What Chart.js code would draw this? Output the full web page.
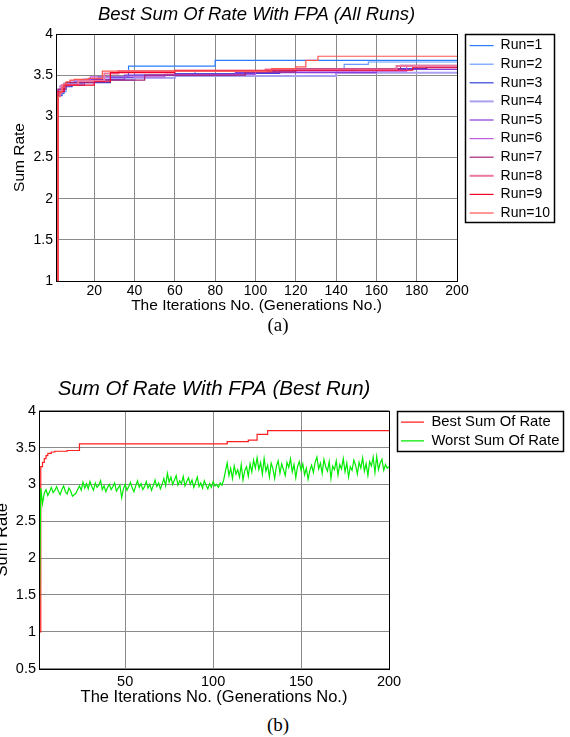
<!DOCTYPE html>
<html>
<head>
<meta charset="utf-8">
<title>Sum Rate FPA</title>
<script src="https://cdn.jsdelivr.net/npm/chart.js@4.4.1/dist/chart.umd.min.js"></script>
<style>
  body { margin: 0; background: #fff; width: 570px; height: 737px; overflow: hidden; position: relative; }
  canvas { position: absolute; left: 0; }
  #grafA { top: 0; }
  #grafB { top: 360px; }
  .rotulo { position: absolute; left: 0; width: 556px; text-align: center; font-family: "Liberation Serif", "Times New Roman", serif; font-size: 19px; line-height: 22px; color: #000; }
</style>
</head>
<body>
<canvas id="grafA" width="570" height="316"></canvas>
<div class="rotulo" style="top:314px">(a)</div>
<canvas id="grafB" width="570" height="348"></canvas>
<div class="rotulo" style="top:714px">(b)</div>
<script>
// DATOS ------------------------------------------------------------
// iteraciones donde cambia el mejor valor de cada corrida (Run=1..10)
const runIters = [
  [1, 2, 5, 10, 22, 37, 80, 200],
  [1, 2, 6, 14, 40, 70, 110, 144, 156, 200],
  [1, 2, 4, 9, 28, 60, 112, 150, 185, 200],
  [1, 2, 5, 12, 40, 60, 140, 200],
  [1, 2, 5, 15, 35, 90, 160, 200],
  [1, 2, 3, 8, 18, 55, 100, 175, 200],
  [1, 2, 6, 20, 45, 95, 120, 172, 200],
  [1, 2, 4, 12, 25, 32, 105, 170, 200],
  [1, 2, 5, 20, 28, 60, 178, 200],
  [1, 2, 3, 4, 5, 6, 8, 10, 17, 24, 108, 120, 125, 131, 200]
];
const runValues = [
  [1.00, 3.28, 3.38, 3.42, 3.48, 3.61, 3.68, 3.68],
  [1.00, 3.30, 3.40, 3.45, 3.50, 3.55, 3.58, 3.63, 3.66, 3.66],
  [1.00, 3.25, 3.36, 3.41, 3.47, 3.52, 3.56, 3.58, 3.60, 3.60],
  [1.00, 3.32, 3.40, 3.44, 3.47, 3.49, 3.53, 3.53],
  [1.00, 3.30, 3.38, 3.45, 3.50, 3.53, 3.57, 3.57],
  [1.00, 3.27, 3.37, 3.43, 3.48, 3.51, 3.55, 3.61, 3.61],
  [1.00, 3.33, 3.41, 3.44, 3.50, 3.54, 3.58, 3.62, 3.62],
  [1.00, 3.29, 3.38, 3.43, 3.52, 3.55, 3.57, 3.61, 3.61],
  [1.00, 3.30, 3.38, 3.42, 3.53, 3.56, 3.59, 3.59],
  [1.00, 3.24, 3.30, 3.35, 3.39, 3.42, 3.44, 3.45, 3.46, 3.55, 3.58, 3.60, 3.68, 3.73, 3.73]
];
// mejor corrida (b)
const bestIters = [1, 2, 3, 4, 5, 6, 8, 10, 17, 24, 108, 120, 125, 131, 200];
const bestValues = [1.00, 3.24, 3.30, 3.35, 3.39, 3.42, 3.44, 3.45, 3.46, 3.55, 3.58, 3.60, 3.68, 3.73, 3.73];
// peor valor por iteracion 1..200 (b)
const worstValues = [
  0.77, 2.95, 2.74, 2.88, 2.93, 2.85, 2.90, 2.96, 2.89, 2.92, 2.97, 2.91, 2.86, 2.93, 2.98, 2.90, 2.87, 2.95, 2.91, 2.84,
  2.86, 2.88, 2.93, 2.98, 2.92, 3.03, 2.95, 3.01, 2.94, 3.04, 2.97, 2.92, 3.02, 2.96, 2.99, 3.05, 2.93, 2.98, 2.90, 2.96,
  3.00, 2.93, 2.97, 3.02, 2.91, 2.95, 2.99, 2.82, 2.94, 3.00, 2.92, 2.97, 3.03, 2.95, 2.90, 2.98, 3.05, 2.96, 3.01, 2.93,
  2.97, 3.04, 2.95, 3.00, 2.92, 2.99, 3.06, 2.97, 3.02, 2.94, 3.00, 3.08, 2.98, 3.15, 3.03, 3.10, 3.00, 3.06, 3.12, 2.99,
  3.05, 3.01, 3.11, 2.98, 3.04, 3.09, 3.00, 3.06, 2.96, 3.03, 3.10, 2.97, 3.02, 2.95, 3.05, 2.99, 2.94, 3.01, 2.96, 3.04,
  2.98, 3.00, 2.96, 3.02, 2.99, 3.06, 3.18, 3.29, 3.12, 3.22, 3.08, 3.25, 3.14, 3.20, 3.10, 3.27, 3.06, 3.19, 3.24, 3.11,
  3.28, 3.17, 3.33, 3.22, 3.36, 3.20, 3.30, 3.14, 3.35, 3.18, 3.26, 3.10, 3.29, 3.21, 3.08, 3.25, 3.32, 3.15, 3.28, 3.20,
  3.12, 3.30, 3.23, 3.35, 3.17, 3.27, 3.09, 3.24, 3.31, 3.19, 3.28, 3.13, 3.22, 3.07, 3.19, 3.26, 3.16, 3.30, 3.37, 3.21,
  3.29, 3.15, 3.34, 3.24, 3.18, 3.31, 3.08, 3.25, 3.20, 3.32, 3.13, 3.27, 3.21, 3.35, 3.17, 3.29, 3.10, 3.24, 3.19, 3.33,
  3.26, 3.14, 3.30, 3.22, 3.36, 3.18, 3.28, 3.12, 3.31, 3.25, 3.37, 3.16, 3.38, 3.20, 3.29, 3.34, 3.19, 3.27, 3.22, 3.24
];
// ticks
const xTicksA = [20, 40, 60, 80, 100, 120, 140, 160, 180, 200];
const yTicksA = [1, 1.5, 2, 2.5, 3, 3.5, 4];
const xTicksB = [50, 100, 150, 200];
const yTicksB = [0.5, 1, 1.5, 2, 2.5, 3, 3.5, 4];
// DATOS END

// estilos
const runColors = [
  "rgb(40,125,255)", "rgb(105,155,255)", "rgb(50,65,215)", "rgb(170,160,240)", "rgb(135,60,220)",
  "rgb(190,90,220)", "rgb(165,35,120)", "rgb(235,120,160)", "rgb(240,0,40)", "rgb(255,85,80)"
];
const runWidths = [1.2, 1.2, 1.2, 2, 1.2, 1.2, 1.2, 2, 1.2, 1.2];
const FONT = "'Liberation Sans', Arial, Helvetica, sans-serif";
const GRID = "#8a8a8a";

// leyenda fuera del area del grafico, 8px a la derecha
const moverLeyenda = {
  id: "moverLeyenda",
  afterLayout(chart) {
    const lg = chart.legend;
    const a = chart.chartArea;
    lg.left = a.right + 8;
    lg.right = lg.left + lg.width;
    lg.top = a.top;
  }
};

// marco de los ejes y caja de la leyenda (estilo MATLAB)
const marco = {
  id: "marco",
  afterDraw(chart) {
    const ctx = chart.ctx;
    const a = chart.chartArea;
    ctx.save();
    ctx.strokeStyle = "#000";
    ctx.lineWidth = 1;
    ctx.strokeRect(Math.round(a.left) + 0.5, Math.round(a.top) + 0.5, Math.round(a.right - a.left), Math.round(a.bottom - a.top));
    const lg = chart.legend;
    const der = lg.left + lg.width - 6;
    const abajo = lg.top + lg.columnSizes[0].height + 2;
    ctx.lineWidth = 1.5;
    ctx.strokeRect(Math.round(lg.left) + 0.5, Math.round(lg.top) + 0.5, Math.round(der - lg.left), Math.round(abajo - lg.top));
    ctx.restore();
  }
};

function ejeX(ticks, alto, tamTick, tamTitulo, padTick, padTitulo) {
  return {
    type: "linear", min: 1, max: 200,
    afterBuildTicks: (ax) => { ax.ticks = ticks.map((v) => ({ value: v })); },
    afterFit: (ax) => { ax.height = alto; },
    grid: { color: GRID, drawTicks: false },
    border: { display: false },
    ticks: { padding: padTick, color: "#000", maxRotation: 0, autoSkip: false, font: { family: FONT, size: tamTick } },
    title: { display: true, text: "The Iterations No. (Generations No.)", color: "#000",
      font: { family: FONT, size: tamTitulo, lineHeight: 1.2 }, padding: { top: 0, bottom: padTitulo } }
  };
}

function ejeY(min, max, ticks, ancho, tamTick, tamTitulo, padTitulo) {
  return {
    type: "linear", min: min, max: max,
    afterBuildTicks: (ax) => { ax.ticks = ticks.map((v) => ({ value: v })); },
    afterFit: (ax) => { ax.width = ancho; },
    grid: { color: GRID, drawTicks: false },
    border: { display: false },
    ticks: { padding: 3, color: "#000", font: { family: FONT, size: tamTick }, callback: (v) => String(v) },
    title: { display: true, text: "Sum Rate", color: "#000",
      font: { family: FONT, size: tamTitulo, lineHeight: 1.2 }, padding: { top: padTitulo, bottom: 0 } }
  };
}

function leyenda(tam, ancho, pad) {
  return {
    position: "chartArea", align: "start",
    labels: {
      usePointStyle: true, pointStyle: "line", pointStyleWidth: ancho,
      padding: pad, color: "#000", font: { family: FONT, size: tam },
      sort: (a, b) => a.datasetIndex - b.datasetIndex
    }
  };
}

// GRAFICO A (todas las corridas) -----------------------------------
function graficoA() {
  const datasets = runIters.map((its, i) => ({
    label: "Run=" + (i + 1),
    data: its.map((x, k) => ({ x: x, y: runValues[i][k] })),
    borderColor: runColors[i],
    backgroundColor: runColors[i],
    borderWidth: runWidths[i],
    stepped: true,
    pointRadius: 0,
    fill: false,
    order: 10 - i
  }));
  new Chart(document.getElementById("grafA"), {
    type: "line",
    data: { datasets: datasets },
    options: {
      responsive: false,
      animation: false,
      layout: { padding: { left: 0, right: 113, top: 0, bottom: 0 } },
      plugins: {
        title: { display: true, text: "Best Sum Of Rate With FPA (All Runs)", fullSize: false, color: "#000",
          font: { family: FONT, size: 18.5, style: "italic", weight: "normal", lineHeight: 1.2 },
          padding: { top: 3.9, bottom: 7.9 } },
        legend: leyenda(14, 24, 4.6),
        tooltip: { enabled: false }
      },
      scales: {
        x: ejeX(xTicksA, 35, 14, 15.5, 2, 1),
        y: ejeY(1, 4, yTicksA, 56, 14, 15.5, 10.7)
      }
    },
    plugins: [moverLeyenda, marco]
  });
}

// GRAFICO B (mejor corrida) ----------------------------------------
function graficoB() {
  const best = bestIters.map((x, k) => ({ x: x, y: bestValues[k] }));
  const worst = worstValues.map((v, k) => ({ x: k + 1, y: v }));
  new Chart(document.getElementById("grafB"), {
    type: "line",
    data: {
      datasets: [
        { label: "Best Sum Of Rate", data: best, borderColor: "rgb(255,30,30)", backgroundColor: "rgb(255,30,30)",
          borderWidth: 1.2, stepped: true, pointRadius: 0, fill: false, order: 1 },
        { label: "Worst Sum Of Rate", data: worst, borderColor: "rgb(0,235,0)", backgroundColor: "rgb(0,235,0)",
          borderWidth: 1.2, tension: 0, pointRadius: 0, fill: false, order: 0 }
      ]
    },
    options: {
      responsive: false,
      animation: false,
      layout: { padding: { left: 0, right: 181, top: 0, bottom: 0 } },
      plugins: {
        title: { display: true, text: "Sum Of Rate With FPA (Best Run)", fullSize: false, color: "#000",
          font: { family: FONT, size: 20.5, style: "italic", weight: "normal", lineHeight: 1.2 },
          padding: { top: 16.7, bottom: 9.4 } },
        legend: leyenda(14.8, 23, 4),
        tooltip: { enabled: false }
      },
      scales: {
        x: ejeX(xTicksB, 39.3, 14.5, 16.5, 4.3, 0.6),
        y: ejeY(0.5, 4, yTicksB, 39, 14.5, 16.5, -7.4)
      }
    },
    plugins: [moverLeyenda, marco]
  });
}

graficoA();
graficoB();
</script>
</body>
</html>
